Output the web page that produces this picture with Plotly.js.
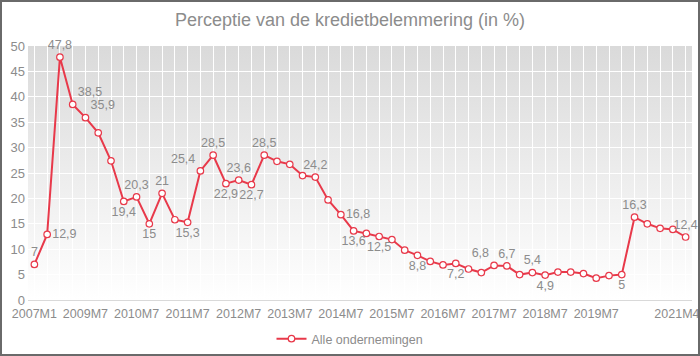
<!DOCTYPE html>
<html>
<head>
<meta charset="utf-8">
<script src="https://cdn.plot.ly/plotly-3.0.1.min.js"></script>
<style>
  html, body { margin: 0; padding: 0; background: #ffffff; }
  #frame { width: 700px; height: 356px; box-sizing: border-box; border: 2px solid #6a6a6a; overflow: hidden; }
  #chart { width: 696px; height: 352px; }
</style>
</head>
<body>
<div id="frame"><div id="chart"></div></div>
<script>
// Categories (periods)
const categories = [
  '2007M1','2008M7','2009M1','2009M4','2009M7','2009M10','2010M1','2010M4',
  '2010M7','2010M10','2011M1','2011M4','2011M7','2011M10','2012M1','2012M4',
  '2012M7','2012M10','2013M1','2013M4','2013M7','2013M10','2014M1','2014M4',
  '2014M7','2014M10','2015M1','2015M4','2015M7','2015M10','2016M1','2016M4',
  '2016M7','2016M10','2017M1','2017M4','2017M7','2017M10','2018M1','2018M4',
  '2018M7','2018M10','2019M1','2019M4','2019M7','2019M10','2020M1','2020M4',
  '2020M7','2020M10','2021M1','2021M4'
];

// Series: Alle ondernemingen (%)
const values = [
  7, 12.9, 47.8, 38.5, 35.9, 32.9, 27.4, 19.4,
  20.3, 15, 21, 15.8, 15.3, 25.4, 28.5, 22.9,
  23.6, 22.7, 28.5, 27.3, 26.7, 24.5, 24.2, 19.7,
  16.8, 13.6, 13.1, 12.5, 11.9, 9.8, 8.8, 7.6,
  6.9, 7.2, 6.1, 5.4, 6.8, 6.7, 5.0, 5.4,
  4.9, 5.5, 5.5, 5.2, 4.3, 4.8, 5, 16.3,
  15.0, 14.1, 13.9, 12.4
];

// Data label positions ('' = no label shown)
const labelPos = [
  'top center','middle right','top center','top right','top right','','','bottom center',
  'top center','bottom center','top center','','bottom center','top left','top center','bottom center',
  'top center','bottom center','top center','','','','top center','',
  'middle right','bottom center','','bottom center','','','bottom center','',
  '','bottom center','','','top left','top center','','top center',
  'bottom center','','','','','','bottom center','top center',
  '','','','top center'
];

// X tick labels shown
const shownTicks = ['2007M1','2009M7','2010M7','2011M7','2012M7','2013M7','2014M7',
  '2015M7','2016M7','2017M7','2018M7','2019M7','2021M4'];

const seriesName = 'Alle ondernemingen';
const titleText = 'Perceptie van de kredietbelemmering (in %)';

const textGray = '#8c8c8c';
const lineRed = '#e8394a';
const fontFam = 'Liberation Sans, Arial, sans-serif';

const texts = values.map((v, i) => labelPos[i] ? String(v).replace('.', ',') : '');
const positions = labelPos.map(p => p || 'top center');

// last tick label is padded so it sits against the right edge like the original
const lastCat = categories[categories.length - 1];
const tickText = categories.map(c => !shownTicks.includes(c) ? '' :
  (c === lastCat ? c + '\u00a0\u00a0\u00a0\u00a0\u00a0' : c));

const trace = {
  type: 'scatter',
  mode: 'lines+markers+text',
  x: categories,
  y: values,
  name: seriesName,
  text: texts,
  textposition: positions,
  textfont: { family: fontFam, size: 12.5, color: textGray },
  cliponaxis: false,
  line: { color: lineRed, width: 2 },
  marker: { symbol: 'circle', size: 6.5, color: '#ffffff', line: { color: lineRed, width: 1.2 } },
  hoverinfo: 'x+y'
};

const gradSvg = '<svg xmlns="http://www.w3.org/2000/svg" width="100" height="100" preserveAspectRatio="none">' +
  '<defs><linearGradient id="g" x1="0" y1="0" x2="0" y2="1">' +
  '<stop offset="0" stop-color="#dadada"/><stop offset="1" stop-color="#ffffff"/>' +
  '</linearGradient></defs><rect width="100" height="100" fill="url(#g)"/></svg>';

const layout = {
  width: 696,
  height: 352,
  margin: { l: 26, r: 6, t: 44, b: 54, autoexpand: false },
  paper_bgcolor: '#ffffff',
  plot_bgcolor: 'rgba(0,0,0,0)',
  font: { family: fontFam, color: textGray, size: 12.5 },
  title: {
    text: titleText,
    font: { family: fontFam, size: 18, color: textGray },
    x: 0.5, xanchor: 'center',
    y: 1 - 18 / 352, yref: 'container', yanchor: 'middle'
  },
  xaxis: {
    type: 'category',
    range: [-0.5, categories.length - 0.5],
    tickmode: 'array',
    tickvals: categories,
    ticktext: tickText,
    tickangle: 0,
    showgrid: true,
    gridcolor: '#ffffff',
    gridwidth: 1,
    showline: true,
    linecolor: '#d9d9d9',
    linewidth: 1,
    ticks: '',
    ticklabelstandoff: 2,
    tickfont: { family: fontFam, size: 12.5, color: textGray },
    fixedrange: true
  },
  yaxis: {
    range: [0, 50],
    dtick: 5,
    tick0: 0,
    showgrid: true,
    gridcolor: '#ffffff',
    gridwidth: 1,
    zeroline: false,
    showline: false,
    ticks: '',
    ticklabelstandoff: 2,
    tickfont: { family: fontFam, size: 13, color: textGray },
    fixedrange: true
  },
  images: [{
    source: 'data:image/svg+xml;charset=utf-8,' + encodeURIComponent(gradSvg),
    xref: 'paper', yref: 'paper',
    x: 0, y: 1, sizex: 1, sizey: 1,
    xanchor: 'left', yanchor: 'top',
    sizing: 'stretch',
    layer: 'below'
  }],
  showlegend: true,
  legend: {
    orientation: 'h',
    xref: 'container', yref: 'container',
    x: 0.5, xanchor: 'center',
    y: 1 - 337 / 352, yanchor: 'middle',
    font: { family: fontFam, size: 12.5, color: textGray },
    bgcolor: 'rgba(0,0,0,0)',
    itemwidth: 30
  }
};

Plotly.newPlot('chart', [trace], layout, { displayModeBar: false, staticPlot: true });
</script>
</body>
</html>
